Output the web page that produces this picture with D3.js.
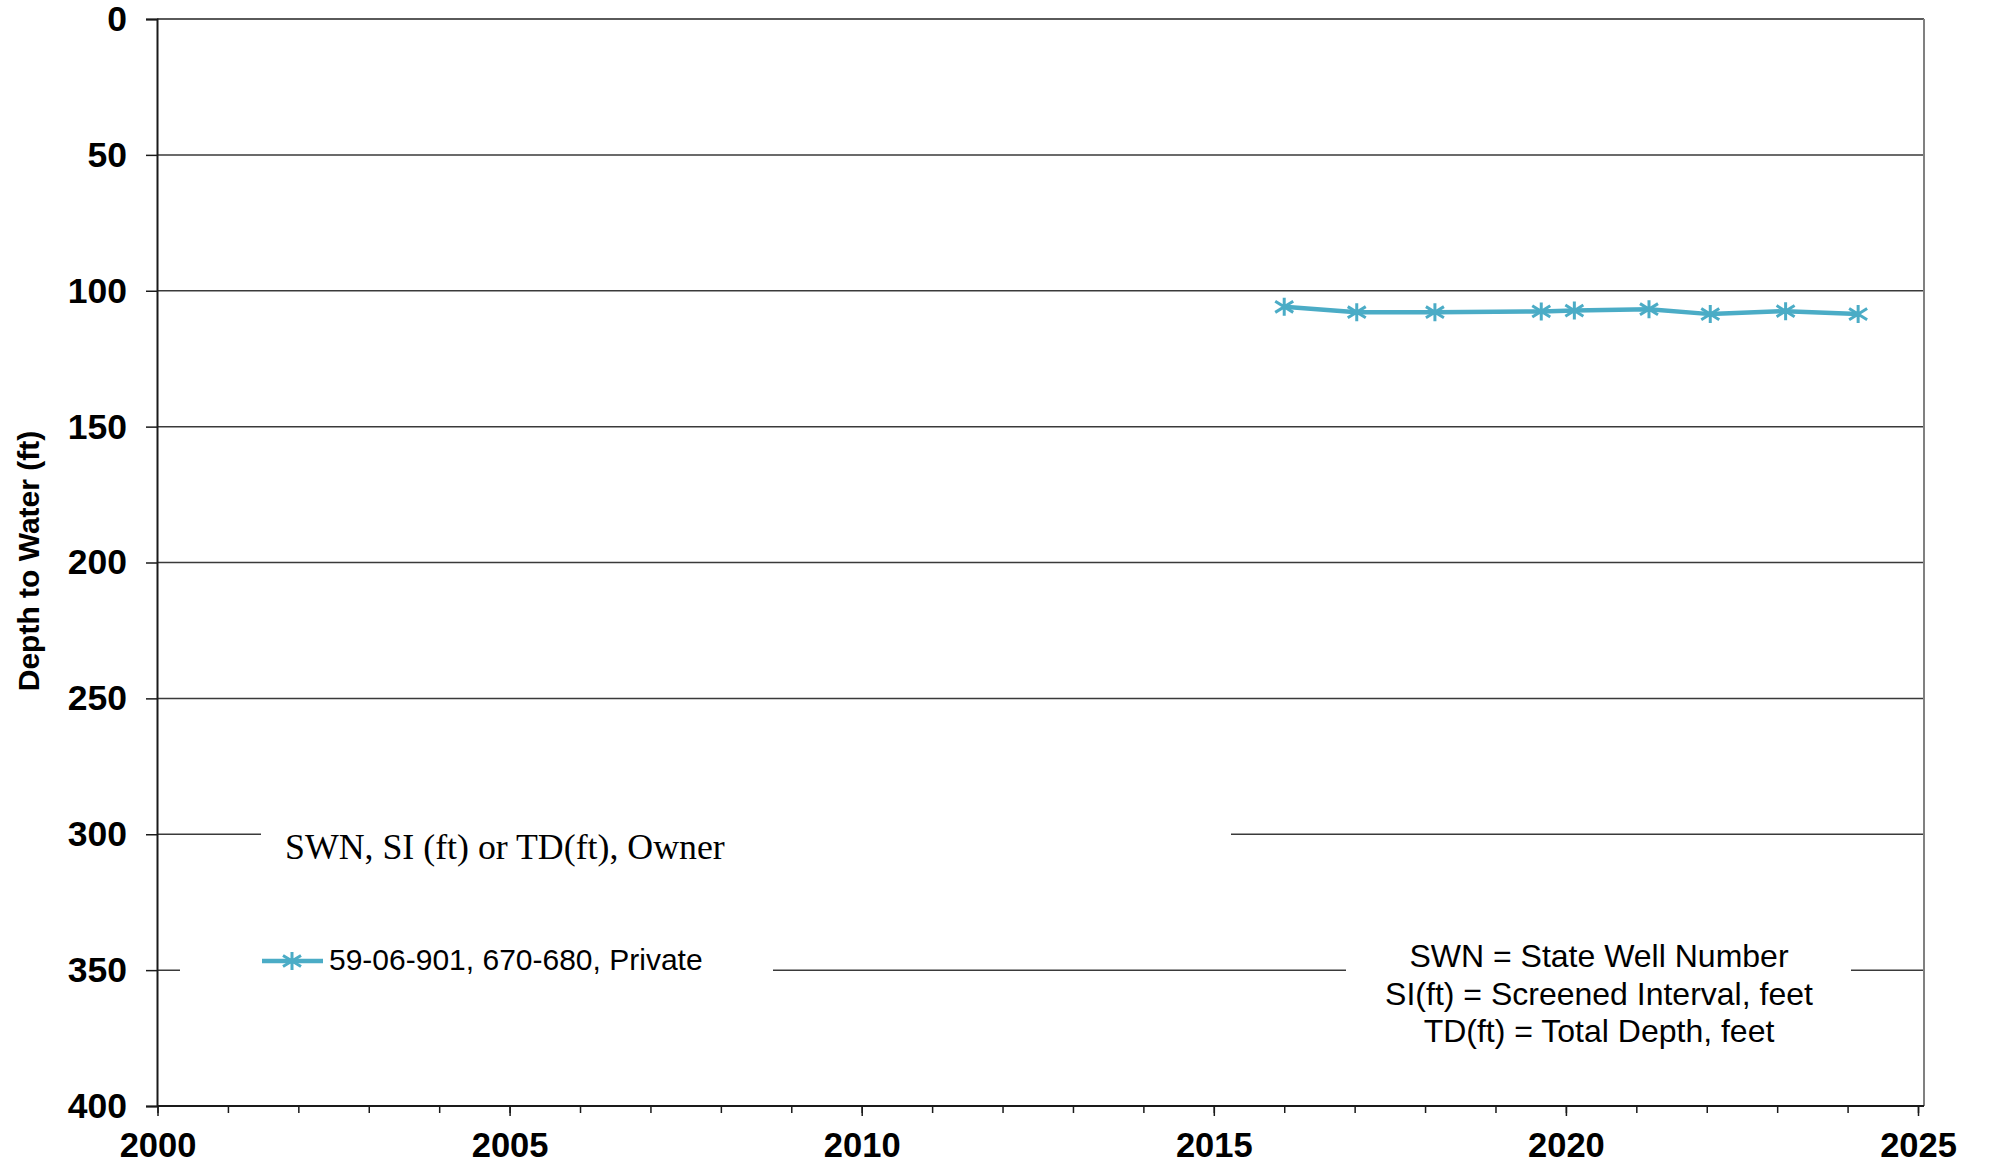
<!DOCTYPE html>
<html>
<head>
<meta charset="utf-8">
<script src="https://cdn.jsdelivr.net/npm/d3@7"></script>
<style>
html,body{margin:0;padding:0;background:#fff;}
svg{display:block;}
</style>
</head>
<body>
<svg id="chart" width="1990" height="1165"></svg>
<script>
// ---- data ----
const years = [2016.0, 2017.03, 2018.14, 2019.65, 2020.12, 2021.18, 2022.05, 2023.12, 2024.15];
const depths = [105.9, 107.9, 107.9, 107.6, 107.3, 106.8, 108.6, 107.5, 108.6];
const seriesName = "59-06-901, 670-680, Private";
const legendTitle = "SWN, SI (ft) or TD(ft), Owner";
const noteLines = ["SWN = State Well Number", "SI(ft) = Screened Interval, feet", "TD(ft) = Total Depth, feet"];
const yTicks = [0, 50, 100, 150, 200, 250, 300, 350, 400];
const xTicks = [2000, 2005, 2010, 2015, 2020, 2025];
const xMinorTicks = d3.range(2000, 2026);
const yLabel = "Depth to Water (ft)";

// ---- layout ----
const L = 157, R = 1924, T = 19, B = 1106;
const color = "#4BACC6";
const svg = d3.select("#chart");
const x = d3.scaleLinear().domain([2000, 2025]).range([157.5, 1918]);
const y = d3.scaleLinear().domain([0, 400]).range([T, B]);

// gridlines
svg.append("g").selectAll("line").data(yTicks.slice(1, -1)).join("line")
  .attr("x1", L).attr("x2", R)
  .attr("y1", d => y(d)).attr("y2", d => y(d))
  .attr("stroke", "#3a3a3a").attr("stroke-width", 1.5);

// frame top / right
svg.append("line").attr("x1", L).attr("x2", R).attr("y1", T).attr("y2", T)
  .attr("stroke", "#5a5a5a").attr("stroke-width", 2);
svg.append("line").attr("x1", R).attr("x2", R).attr("y1", T).attr("y2", B)
  .attr("stroke", "#808080").attr("stroke-width", 2);

// white boxes (legend title, legend, note)
svg.append("rect").attr("x", 261).attr("y", 800).attr("width", 970).attr("height", 62).attr("fill", "#fff");
svg.append("rect").attr("x", 180).attr("y", 930).attr("width", 593).attr("height", 70).attr("fill", "#fff");
svg.append("rect").attr("x", 1346).attr("y", 935).attr("width", 505).attr("height", 120).attr("fill", "#fff");

// axes
const fontSans = "'Liberation Sans', Arial, sans-serif";
const yAxis = svg.append("g").attr("transform", `translate(${L},0)`)
  .call(d3.axisLeft(y).tickValues(yTicks).tickSize(11).tickPadding(19).tickFormat(d3.format("d")));
yAxis.select(".domain").attr("stroke", "#1a1a1a").attr("stroke-width", 2);
yAxis.selectAll(".tick line").attr("stroke", "#1a1a1a").attr("stroke-width", 1.5);
yAxis.selectAll("text").attr("font-family", fontSans).attr("font-weight", "bold").attr("font-size", 35.5).attr("fill", "#000");

const xMinor = svg.append("g").attr("transform", `translate(0,${B})`)
  .call(d3.axisBottom(x).tickValues(xMinorTicks).tickSize(7).tickFormat(""));
xMinor.select(".domain").remove();
xMinor.selectAll(".tick line").attr("stroke", "#1a1a1a").attr("stroke-width", 1.5);

const xAxis = svg.append("g").attr("transform", `translate(0,${B})`)
  .call(d3.axisBottom(x).tickValues(xTicks).tickSize(10).tickPadding(17).tickFormat(d3.format("d")));
xAxis.select(".domain").attr("d", `M${L},0H${R}`).attr("stroke", "#1a1a1a").attr("stroke-width", 2);
xAxis.selectAll(".tick line").attr("stroke", "#1a1a1a").attr("stroke-width", 1.5);
xAxis.selectAll("text").attr("font-family", fontSans).attr("font-weight", "bold").attr("font-size", 34.5).attr("fill", "#000");

// y label
svg.append("text").attr("transform", "translate(39,561) rotate(-90)")
  .attr("text-anchor", "middle").attr("font-family", fontSans).attr("font-weight", "bold")
  .attr("font-size", 30).attr("fill", "#000").text(yLabel);

// data line
const pts = years.map((yr, i) => [yr, depths[i]]);
svg.append("path").datum(pts)
  .attr("d", d3.line().x(d => x(d[0])).y(d => y(d[1])))
  .attr("fill", "none").attr("stroke", color).attr("stroke-width", 4.5).attr("stroke-linejoin", "round");

const r = 9;
const star = `M0,${-r}L0,${r}M${-r},${-r*0.62}L${r},${r*0.62}M${-r},${r*0.62}L${r},${-r*0.62}`;
svg.append("g").selectAll("path").data(pts).join("path")
  .attr("transform", d => `translate(${x(d[0])},${y(d[1])})`)
  .attr("d", star).attr("fill", "none").attr("stroke", color).attr("stroke-width", 3);

// legend
svg.append("text").attr("x", 285).attr("y", 859)
  .attr("font-family", "'Liberation Serif', 'Times New Roman', serif").attr("font-size", 35.8).attr("fill", "#000")
  .text(legendTitle);
svg.append("line").attr("x1", 262).attr("x2", 323).attr("y1", 961).attr("y2", 961)
  .attr("stroke", color).attr("stroke-width", 4.5);
svg.append("path").attr("transform", "translate(292,961)").attr("d", star)
  .attr("fill", "none").attr("stroke", color).attr("stroke-width", 3);
svg.append("text").attr("x", 329).attr("y", 970)
  .attr("font-family", fontSans).attr("font-size", 30).attr("fill", "#000").text(seriesName);

// note
svg.append("g").selectAll("text").data(noteLines).join("text")
  .attr("x", 1599).attr("y", (d, i) => 967 + i * 37.5)
  .attr("text-anchor", "middle").attr("font-family", fontSans).attr("font-size", 32).attr("fill", "#000")
  .text(d => d);
</script>
</body>
</html>
